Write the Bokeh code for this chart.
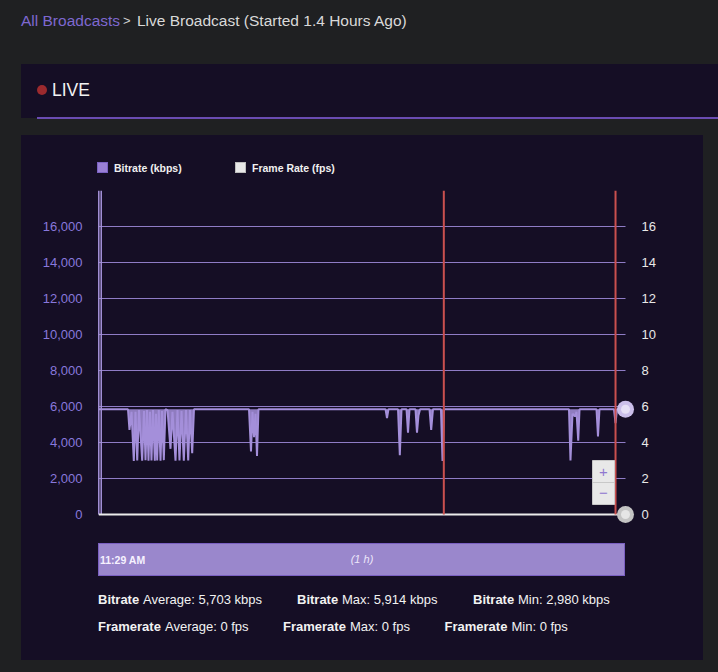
from bokeh.plotting import figure
from bokeh.models import Range1d, LinearAxis, FixedTicker, NumeralTickFormatter, Div
from bokeh.core.properties import value
from bokeh.layouts import column, row
from bokeh.embed import file_html
from bokeh.resources import INLINE

# ---------------- data ----------------
minutes = [0.00, 4.71, 4.95, 5.28, 5.65, 5.92, 6.20, 6.49, 7.00, 7.29, 7.54, 7.78,
           8.02, 8.26, 8.50, 8.75, 9.04, 9.23, 9.42, 9.68, 9.96, 10.20, 10.49,
           10.76, 11.09, 11.57, 11.89, 12.38, 12.70, 13.02, 13.35, 13.72, 14.07,
           14.43, 14.72, 15.07, 15.36,
           24.24, 24.56, 24.80, 25.05, 25.29, 25.53, 25.77,
           46.27, 46.51, 46.75,
           48.29, 48.58, 48.85,
           49.66, 49.90, 50.14,
           51.11, 51.35, 51.59, 51.84,
           53.37, 53.64, 53.93,
           55.22, 55.47, 55.71,
           75.88, 76.12, 76.45, 76.85, 77.09, 77.37, 77.58,
           80.32, 80.56, 80.80,
           83.14, 83.39, 83.63,
           85.00]
bitrate_kbps = [5850, 5850, 4700, 5700, 2980, 5700, 3000, 5800, 2990, 5750, 3010, 5800,
                2990, 5700, 3000, 5800, 2985, 5600, 3000, 5800, 2990, 5750, 3020,
                5850, 5800, 3650, 5700, 2990, 5800, 3000, 5750, 2995, 5800,
                3000, 5800, 3400, 5850,
                5850, 3500, 5700, 4300, 5600, 3250, 5850,
                5850, 5350, 5850,
                5850, 3300, 5850,
                5850, 4550, 5850,
                5850, 4550, 5500, 5850,
                5850, 4700, 5850,
                5850, 2980, 5850,
                5850, 3000, 5600, 5450, 5700, 4100, 5850,
                5850, 4330, 5850,
                5850, 5080, 5850,
                5850]
steady_kbps = 5850
fps_minutes = [0.0, 85.0]
framerate_fps = [0, 0]
event_minutes = [55.68, 83.39]
start_minutes = [0.0, 0.39]
kbps_ticks = [0, 2000, 4000, 6000, 8000, 10000, 12000, 14000, 16000]
fps_ticks = [0, 2, 4, 6, 8, 10, 12, 14, 16]
kbps_axis_max = 18000
fps_axis_max = 18
legend_labels = ["Bitrate (kbps)", "Frame Rate (fps)"]
nav_start = "11:29 AM"
nav_span = "(1 h)"
bitrate_stats = [("Average", 5703), ("Max", 5914), ("Min", 2980)]
framerate_stats = [("Average", 0), ("Max", 0), ("Min", 0)]
crumb_link = "All Broadcasts"
crumb_title = "Live Broadcast (Started 1.4 Hours Ago)"
status_text = "LIVE"

# ---------------- layout constants ----------------
W, H = 718, 672
PX, PY, PW, PH = 21, 135, 682, 525          # chart panel
FL, FR, FT, FB = 95, 636, 190, 524          # plot frame (page coords)
PAGE = "#1f2022"
PANEL = "#150e25"
GRID = "#8f7cc6"
BITRATE = "#a48fda"
FONT = "'Liberation Sans', Arial, sans-serif"


def span(x, cy, text, size, color, weight="normal", style="normal", align="left"):
    h = size * 1.4
    shift = "transform:translateX(-50%);" if align == "center" else ""
    return (f'<span style="position:absolute;left:{x}px;top:{cy - h / 2:.2f}px;'
            f'height:{h:.2f}px;line-height:{h:.2f}px;font-size:{size}px;'
            f'font-family:{FONT};font-weight:{weight};font-style:{style};'
            f'color:{color};white-space:nowrap;{shift}">{text}</span>')


def rect(x, y, w, h, fill, border=None, radius=0):
    b = f"border:1px solid {border};" if border else ""
    return (f'<div style="position:absolute;left:{x}px;top:{y}px;width:{w}px;'
            f'height:{h}px;background:{fill};{b}box-sizing:border-box;'
            f'border-radius:{radius}px;"></div>')


def block(w, h, bg, inner=""):
    return Div(text=(f'<div style="position:relative;width:{w}px;height:{h}px;'
                     f'overflow:hidden;">{inner}</div>'),
               width=w, height=h, styles={"background-color": bg, "margin": "0",
                                           "padding": "0"})


# ---------------- header ----------------
hdr = "".join([
    span(21, 21, crumb_link, 15.5, "#7e68d0"),
    span(123, 21, "&gt;", 13, "#d0d0d0"),
    span(137, 21, crumb_title, 15.5, "#d9d9d9"),
    rect(21, 64, W - 21, 54, PANEL),
    rect(37, 117, W - 37, 1.5, "#6a4cb2"),
    rect(37, 85, 10, 10, "#9c2a2e", radius=5),
    span(52, 90, status_text, 17.5, "#f2f2f2"),
])
header = block(W, PY, PAGE, hdr)

# ---------------- legend strip (above frame) ----------------
leg = "".join([
    rect(97 - PX, 162 - PY, 11, 11, "#9a80d6", "#7b62c4"),
    span(114 - PX, 168 - PY, legend_labels[0], 10.5, "#f0f0f0", "bold"),
    rect(235 - PX, 162 - PY, 11, 11, "#e8e8e8", "#bdbdbd"),
    span(252 - PX, 168 - PY, legend_labels[1], 10.5, "#f0f0f0", "bold"),
])
legend = block(PW, FT - PY, PANEL, leg)

# ---------------- bottom strip (navigator + stats) ----------------
parts = [
    rect(98 - PX, 543 - FB, 527, 33, "#9a87cc", "#7b60c2"),
    span(100 - PX, 560 - FB, nav_start, 10.5, "#f6f2ff", "bold"),
    span(362 - PX, 560 - FB, nav_span, 11, "#ece6fa", style="italic", align="center"),
]
for (name, v), xx in zip(bitrate_stats, [98, 297, 473]):
    parts.append(span(xx - PX, 600.5 - FB, "Bitrate", 13, "#f2f2f2", "bold"))
    parts.append(span(xx + 45 - PX, 600.5 - FB, f"{name}: {v:,} kbps", 13, "#f2f2f2"))
for (name, v), xx in zip(framerate_stats, [98, 283, 444.5]):
    parts.append(span(xx - PX, 627 - FB, "Framerate", 13, "#f2f2f2", "bold"))
    parts.append(span(xx + 67 - PX, 627 - FB, f"{name}: {v:,} fps", 13, "#f2f2f2"))
bottom = block(PW, PY + PH - FB, PANEL, "".join(parts))

# ---------------- chart ----------------
kx = (625 - 98.3) / 85.0
ky = (514 - FT) / kbps_axis_max
x0 = -(98.3 - FL) / kx
x1 = 85.0 + (FR - 625) / kx
y0 = -(FB - 514) / ky

# transparent canvas over a panel-coloured host element
p = figure(width=PW, height=FB - FT, x_range=Range1d(x0, x1),
           y_range=Range1d(y0, kbps_axis_max),
           output_backend="svg", toolbar_location=None, x_axis_location=None,
           y_axis_location="left", min_border=0,
           min_border_left=FL - PX, min_border_right=PX + PW - FR,
           min_border_top=0, min_border_bottom=0,
           background_fill_color=None, border_fill_color=None,
           styles={"background-color": PANEL})
p.outline_line_color = None
p.grid.visible = False
p.extra_y_ranges = {"fps": Range1d(y0 * fps_axis_max / kbps_axis_max, fps_axis_max)}


def style_axis(ax, color, standoff):
    ax.axis_line_color = None
    ax.major_tick_line_color = None
    ax.minor_tick_line_color = None
    ax.major_tick_in = 0
    ax.major_tick_out = 0
    ax.minor_tick_in = 0
    ax.minor_tick_out = 0
    ax.major_label_text_font = "Liberation Sans"
    ax.major_label_text_font_size = "13px"
    ax.major_label_text_color = color
    ax.major_label_standoff = standoff


ly = p.yaxis[0]
ly.ticker = FixedTicker(ticks=kbps_ticks)
ly.formatter = NumeralTickFormatter(format="0,0")
style_axis(ly, "#8878dc", 13)

ry = LinearAxis(y_range_name="fps", ticker=FixedTicker(ticks=fps_ticks))
style_axis(ry, "#e8e8e8", 5)
p.add_layout(ry, "right")

g = kbps_ticks[1:]
p.segment(x0=[minutes[0]] * len(g), x1=[minutes[-1]] * len(g), y0=g, y1=g,
          line_color=GRID, line_width=1)
p.segment(x0=start_minutes, x1=start_minutes, y0=[0] * len(start_minutes),
          y1=[kbps_axis_max] * len(start_minutes), line_color="#a794dc", line_width=1.5)
p.varea(x=minutes, y1=bitrate_kbps, y2=[steady_kbps] * len(minutes),
        fill_color=BITRATE, fill_alpha=0.85)
p.line(minutes, bitrate_kbps, line_color=BITRATE, line_width=2)
p.line(fps_minutes, framerate_fps, y_range_name="fps", line_color="#ececec", line_width=2)
p.segment(x0=event_minutes, x1=event_minutes, y0=[0] * len(event_minutes),
          y1=[kbps_axis_max] * len(event_minutes), line_color="#c9504f", line_width=2)
p.scatter([minutes[-1]], [bitrate_kbps[-1]], size=17, fill_color="#cbbfea", line_color=None)
p.scatter([minutes[-1]], [bitrate_kbps[-1]], size=9, fill_color="#e6e0f6", line_color=None)
p.scatter([fps_minutes[-1]], [framerate_fps[-1]], y_range_name="fps", size=17,
          fill_color="#c4c4c4", line_color=None)
p.scatter([fps_minutes[-1]], [framerate_fps[-1]], y_range_name="fps", size=9,
          fill_color="#e6e6e6", line_color=None)


# zoom buttons (UI chrome, placed by page pixel via the plot's own scales)
def dx(cx):
    return x0 + (cx - FL) / kx


def dy(cy):
    return y0 + (FB - cy) / ky


p.quad(left=[dx(592)] * 2, right=[dx(614)] * 2, top=[dy(460), dy(482)],
       bottom=[dy(482), dy(504)], fill_color="#e8e8e8", line_color="#c8c8c8")
p.text(x=[dx(603)] * 2, y=[dy(471), dy(492.5)], text=["+", "\u2212"],
       text_color="#9078d0", text_font_size="15px", text_align="center",
       text_baseline="middle", text_font=value("Liberation Sans"))

layout = column(
    header,
    row(block(PX, PH, PAGE), column(legend, p, bottom, spacing=0),
        block(W - PX - PW, PH, PAGE), spacing=0),
    block(W, H - PY - PH, PAGE),
    spacing=0,
)

html = file_html(layout, INLINE)
html = html.replace("<head>", "<head><style>html,body{margin:0;background:" + PAGE + ";}</style>", 1)
open("out.html", "w").write(html)
